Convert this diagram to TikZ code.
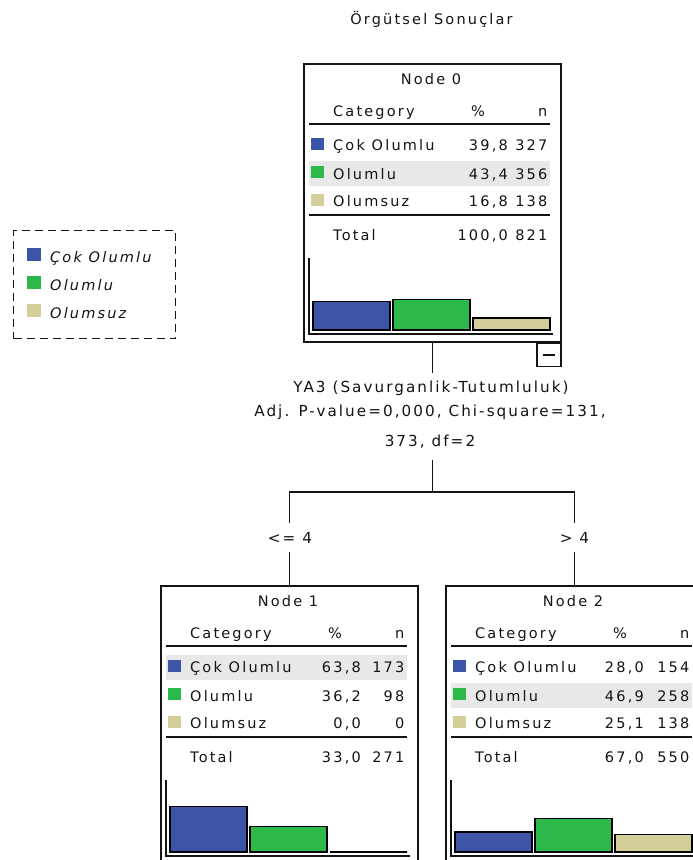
\documentclass[tikz,border=0pt]{standalone}
\usepackage{fontspec}
\setmainfont{DejaVu Sans}[LetterSpace=15]
\newfontfamily\labelfont{DejaVu Sans}[LetterSpace=13.5]
\definecolor{catblue}{RGB}{60,85,168}
\definecolor{catgreen}{RGB}{45,184,74}
\definecolor{cattan}{RGB}{212,206,152}
\definecolor{rowhl}{RGB}{232,232,232}
\definecolor{ink}{RGB}{20,20,20}

% one category row of a node table: name, centre y, colour, label, percent, count
\newcommand\ctrow[6]{%
  \fill[#3] (8,#2-8) rectangle (21,#2+4);
  \node[txt, anchor=base west] (#1-lab) at (30,#2+5.2) {#4};
  \node[txt, anchor=base east] (#1-pct) at (\pctright,#2+5.2) {#5};
  \node[txt, anchor=base east] (#1-n) at (244.5,#2+5.2) {#6};}

% node table frame, header, rules and total line:
% name, left, top, title, y of highlighted row, total percent, total count
\newcommand\ctbox[7]{%
  \node[frame, anchor=north west, minimum width=257pt, minimum height=278pt] (#1) at (#2,#3) {};
  \begin{scope}[shift={(#2,#3)}]
    \fill[rowhl] (6,#5-13) rectangle (247,#5+12);
    \node[txt, anchor=base] (#1-title) at (128,21.7) {#4};
    \node[txt, anchor=base west] (#1-hcat) at (30,53.7) {Category};
    \node[txt, anchor=base] (#1-hpct) at (175,53.7) {\%};
    \node[txt, anchor=base east] (#1-hn) at (244.5,53.7) {n};
    \draw[rule] (6,61) -- (247,61);
    \draw[rule] (6,152) -- (247,152);
    \node[txt, anchor=base west] (#1-tot) at (30,177.2) {Total};
    \node[txt, anchor=base east] (#1-totp) at (\pctright,177.2) {#6};
    \node[txt, anchor=base east] (#1-totn) at (244.5,177.2) {#7};
    \draw[rule] (6,195) -- (6,271) -- (250,271);
  \end{scope}}

% three bars, heights proportional to the percentages
\newcommand\ctbars[5]{% left, top, p1, p2, p3
  \begin{scope}[shift={(#1,#2)}]
    \draw[bar, fill=catblue]  (10,267) rectangle (87,267-0.71*#3);
    \draw[bar, fill=catgreen] (90,267) rectangle (167,267-0.71*#4);
    \draw[bar, fill=cattan]   (170,267) rectangle (247,267-0.71*#5);
  \end{scope}}

\begin{document}
\begin{tikzpicture}[x=1pt, y=-1pt,
  txt/.style={inner sep=0pt, text=ink, font=\fontsize{14.5}{17}\selectfont},
  big/.style={inner sep=0pt, text=ink, font=\fontsize{15.2}{18}\labelfont},
  frame/.style={draw=ink, line width=1.6pt, inner sep=0pt},
  rule/.style={draw=ink, line width=1.3pt},
  bar/.style={draw=black, line width=1.3pt},
  link/.style={draw=ink, line width=1.5pt},
  legendbox/.style={draw=ink, line width=1.4pt, dash pattern=on 8pt off 5pt, inner sep=0pt}]

\path[use as bounding box, fill=white] (0,0) rectangle (693,860);
\clip (0,0) rectangle (693,860);

% heading
\node[txt, anchor=base] (heading) at (431.5,24) {Örgütsel Sonuçlar};

% legend
\node[legendbox, anchor=north west, minimum width=162pt, minimum height=108pt] (legend) at (13,230) {};
\fill[catblue]  (27,248) rectangle (41,261);
\fill[catgreen] (27,276) rectangle (41,289);
\fill[cattan]   (27,304) rectangle (41,317);
\node[txt, anchor=base west, font=\fontsize{14.5}{17}\selectfont\itshape] (leg1) at (50,262.2) {Çok Olumlu};
\node[txt, anchor=base west, font=\fontsize{14.5}{17}\selectfont\itshape] (leg2) at (50,290.2) {Olumlu};
\node[txt, anchor=base west, font=\fontsize{14.5}{17}\selectfont\itshape] (leg3) at (50,318.2) {Olumsuz};

% root node
\def\pctright{205}
\ctbox{n0}{303}{63}{Node 0}{111}{100,0}{821}
\begin{scope}[shift={(303,63)}]
  \ctrow{n0r1}{82.5}{catblue}{Çok Olumlu}{39,8}{327}
  \ctrow{n0r2}{111}{catgreen}{Olumlu}{43,4}{356}
  \ctrow{n0r3}{138.5}{cattan}{Olumsuz}{16,8}{138}
\end{scope}
\ctbars{303}{63}{39.8}{43.4}{16.8}
\node[draw=ink, line width=1.4pt, anchor=north east, minimum width=24pt, minimum height=23pt, inner sep=0pt] (toggle) at (n0.south east) {};
\draw[line width=1.4pt, ink] ([xshift=-6pt]toggle.center) -- ([xshift=6pt]toggle.center);

% split description
\node[big, anchor=base] (split1) at (431,392.5) {YA3 (Savurganlik-Tutumluluk)};
\node[big, anchor=base] (split2) at (430,416.5) {Adj. P-value=0,000, Chi-square=131,};
\node[big, anchor=base] (split3) at (430,446.5) {373, df=2};

% left child
\def\pctright{201}
\ctbox{n1}{160}{585}{Node 1}{82.5}{33,0}{271}
\begin{scope}[shift={(160,585)}]
  \ctrow{n1r1}{82.5}{catblue}{Çok Olumlu}{63,8}{173}
  \ctrow{n1r2}{111}{catgreen}{Olumlu}{36,2}{98}
  \ctrow{n1r3}{138.5}{cattan}{Olumsuz}{0,0}{0}
\end{scope}
\ctbars{160}{585}{63.8}{36.2}{0}

% right child
\def\pctright{199}
\ctbox{n2}{445}{585}{Node 2}{111}{67,0}{550}
\begin{scope}[shift={(445,585)}]
  \ctrow{n2r1}{82.5}{catblue}{Çok Olumlu}{28,0}{154}
  \ctrow{n2r2}{111}{catgreen}{Olumlu}{46,9}{258}
  \ctrow{n2r3}{138.5}{cattan}{Olumsuz}{25,1}{138}
\end{scope}
\ctbars{445}{585}{28.0}{46.9}{25.1}

% branch labels
\node[big, anchor=base] (le) at (290,543.5) {<= 4};
\node[big, anchor=base] (gt) at (574.5,543.5) {> 4};

% connectors
\coordinate (stem) at (n0.south |- 0,373);
\coordinate (fork) at (n0.south |- 0,460);
\coordinate (junction) at (n0.south |- 0,492);
\coordinate (lj) at (n1.north |- 0,492);
\coordinate (rj) at (n2.north |- 0,492);
\coordinate (lup) at (n1.north |- 0,523);
\coordinate (rup) at (n2.north |- 0,523);
\coordinate (llow) at (n1.north |- 0,552);
\coordinate (rlow) at (n2.north |- 0,552);
\draw[link] (n0.south) -- (stem);
\draw[link] (fork) -- (junction);
\draw[link] (lup) -- (lj) -- (rj) -- (rup);
\draw[link] (llow) -- (n1.north);
\draw[link] (rlow) -- (n2.north);
\end{tikzpicture}
\end{document}
